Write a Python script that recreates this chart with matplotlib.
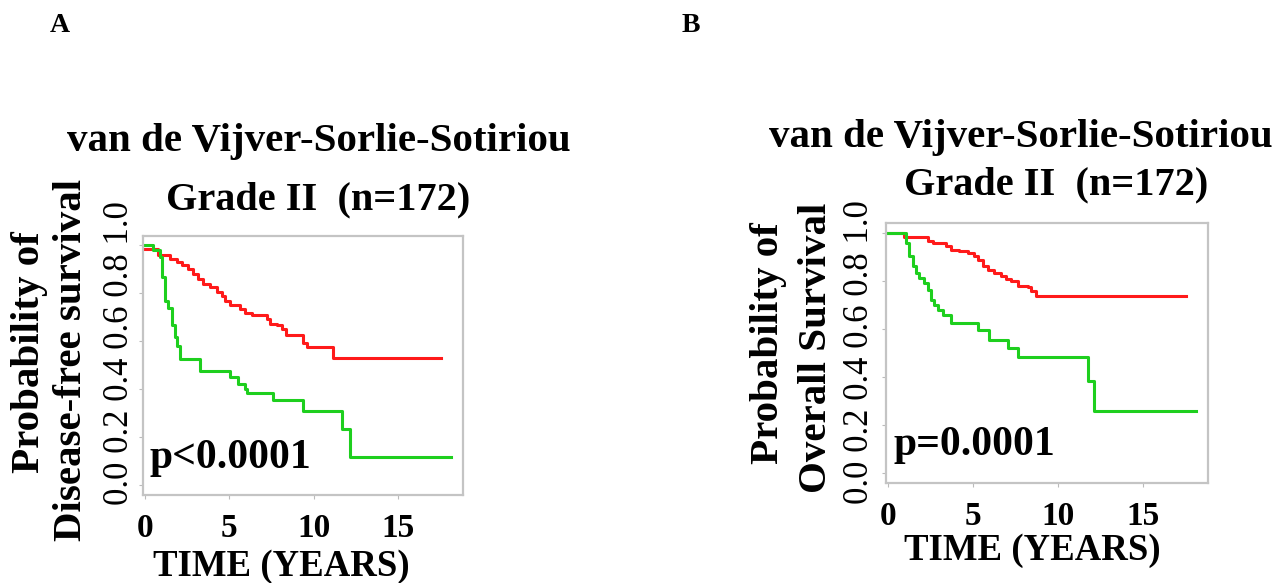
import matplotlib.pyplot as plt

plt.rcParams['font.family'] = ['Liberation Serif', 'DejaVu Serif']
plt.rcParams['font.weight'] = 'bold'

W, H = 1286, 583

# Kaplan-Meier steps: (time in years, survival probability)
dfs_high_t = [0, 0.79, 1.48, 1.87, 2.17, 2.56, 2.86, 3.14, 3.45, 3.85, 4.24, 4.54, 4.73,
              5.03, 5.62, 5.92, 6.31, 7.2, 7.4, 7.8, 8.09, 8.38, 9.37, 9.57, 11.14, 17.55]
dfs_high_s = [0.985, 0.958, 0.945, 0.93, 0.92, 0.90, 0.88, 0.86, 0.84, 0.826, 0.805, 0.79, 0.77,
              0.75, 0.736, 0.72, 0.71, 0.695, 0.674, 0.667, 0.653, 0.625, 0.595, 0.575, 0.532, 0.532]
dfs_low_t = [0, 0.5, 0.89, 0.99, 1.18, 1.38, 1.58, 1.78, 1.87, 2.07, 3.25, 5.03, 5.52,
             5.92, 6.02, 7.59, 9.37, 11.64, 12.13, 18.15]
dfs_low_s = [1.0, 0.98, 0.95, 0.87, 0.77, 0.74, 0.67, 0.62, 0.58, 0.528, 0.476, 0.451, 0.424,
             0.403, 0.385, 0.354, 0.31, 0.236, 0.118, 0.118]

os_high_t = [0, 0.98, 2.35, 2.65, 3.43, 3.72, 4.21, 4.7, 5.1, 5.3, 5.6, 5.88, 6.27, 6.67,
             6.96, 7.25, 7.65, 8.24, 8.43, 8.72, 17.55]
os_high_s = [1.0, 0.983, 0.965, 0.958, 0.944, 0.93, 0.923, 0.917, 0.905, 0.889, 0.864, 0.847,
             0.833, 0.819, 0.808, 0.798, 0.78, 0.775, 0.757, 0.739, 0.739]
os_low_t = [0, 1.08, 1.27, 1.47, 1.66, 1.86, 2.15, 2.35, 2.55, 2.74, 2.94, 3.24, 3.72, 5.3,
            5.98, 7.06, 7.65, 11.76, 12.12, 18.14]
os_low_s = [1.0, 0.958, 0.903, 0.861, 0.833, 0.8125, 0.79, 0.764, 0.722, 0.701, 0.68, 0.66,
            0.625, 0.597, 0.555, 0.521, 0.482, 0.385, 0.257, 0.257]

x_ticks = [0, 5, 10, 15]
y_ticks = [0.0, 0.2, 0.4, 0.6, 0.8, 1.0]
cohort = "van de Vijver-Sorlie-Sotiriou"
subtitle = "Grade II  (n=172)"


def fx(x):
    return x / W


def fy(y):
    return 1 - y / H


def panel(box, hi, lo, ylab, ptxt, pos):
    left, top, right, bottom = box
    ax = fig.add_axes([fx(left), fy(bottom), (right - left) / W, (bottom - top) / H])
    ax.step(hi[0], hi[1], where='post', color='#ff1a1a', lw=2.2)
    ax.step(lo[0], lo[1], where='post', color='#1ecf1e', lw=2.2)
    ax.set_xlim(-0.1, 18.85)
    ax.set_ylim(-0.04, 1.04)
    ax.set_xticks(x_ticks)
    ax.set_yticks(y_ticks)
    ax.tick_params(axis='y', labelleft=False, length=3, color='#bbbbbb')
    ax.tick_params(axis='x', length=3, color='#bbbbbb', pad=10, labelsize=24)
    for s in ax.spines.values():
        s.set_color('#c4c4c4')
        s.set_linewidth(1.6)

    fig.text(fx(pos['t1'][0]), fy(pos['t1'][1]), cohort, ha='center', va='center', fontsize=29.5)
    fig.text(fx(pos['t2'][0]), fy(pos['t2'][1]), subtitle, ha='center', va='center', fontsize=29)
    fig.text(fx(pos['yl1'][0]), fy(pos['yl1'][1]), "Probability of", rotation=90,
             ha='center', va='center', fontsize=29.5)
    fig.text(fx(pos['yl2'][0]), fy(pos['yl2'][1]), ylab, rotation=90,
             ha='center', va='center', fontsize=29.5)
    fig.text(fx(pos['yt'][0]), fy(pos['yt'][1]), " ".join(f"{v:.1f}" for v in y_ticks),
             rotation=90, ha='center', va='center', fontsize=25, fontweight='normal')
    fig.text(fx(pos['p'][0]), fy(pos['p'][1]), ptxt, ha='left', va='baseline', fontsize=30)
    fig.text(fx(pos['xl'][0]), fy(pos['xl'][1]), "TIME (YEARS)", ha='center', va='center', fontsize=26.5)
    return ax


fig = plt.figure(figsize=(W / 100, H / 100), dpi=100)

panel((143.3, 235.7, 463.3, 495), (dfs_high_t, dfs_high_s), (dfs_low_t, dfs_low_s),
      "Disease-free survival", "p<0.0001",
      dict(t1=(319, 142), t2=(318, 200), yl1=(30, 352), yl2=(72, 360), yt=(120, 353),
           p=(150, 468), xl=(281, 567)))
panel((886, 223.3, 1208.3, 482.7), (os_high_t, os_high_s), (os_low_t, os_low_s),
      "Overall Survival", "p=0.0001",
      dict(t1=(1021, 138), t2=(1056, 185), yl1=(768, 343), yl2=(816, 348), yt=(860, 352),
           p=(893, 455), xl=(1032, 550)))

fig.text(fx(60), fy(26), "A", ha='center', va='center', fontsize=20)
fig.text(fx(691), fy(26), "B", ha='center', va='center', fontsize=20)

fig.savefig("out.png", dpi=100)
